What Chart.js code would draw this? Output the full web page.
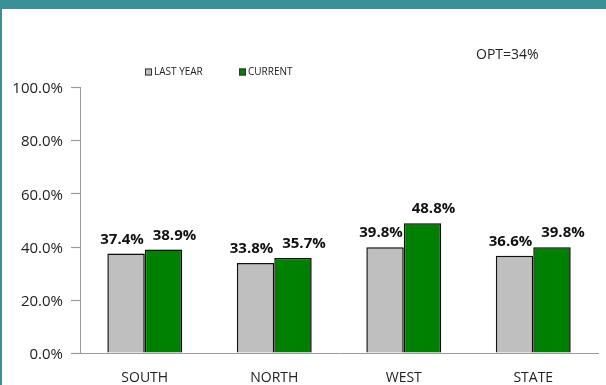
<!DOCTYPE html>
<html>
<head>
<meta charset="utf-8">
<script src="https://cdn.jsdelivr.net/npm/chart.js@4/dist/chart.umd.min.js"></script>
<style>
  html, body { margin: 0; padding: 0; background: #fff; }
  #frame {
    width: 604px; height: 376px;
    border-top: 9px solid #3a9097;
    border-left: 2px solid #3a9097;
  }
  canvas { display: block; }
</style>
</head>
<body>
<div id="frame"><canvas id="chart" width="604" height="376"></canvas></div>
<script>
// Data
const regions = ['SOUTH', 'NORTH', 'WEST', 'STATE'];
const lastYear = [37.4, 33.8, 39.8, 36.6];
const current = [38.9, 35.7, 48.8, 39.8];
const yTicks = [0, 20, 40, 60, 80, 100];
const optLabel = 'OPT=34%';

const FONT = "'Open Sans', sans-serif";
const TEXT = '#222';
const AXIS = '#9a9a9a';

// soft drop shadow behind the bars
const barShadow = {
  id: 'barShadow',
  beforeDatasetDraw(chart) {
    const ctx = chart.ctx;
    ctx.save();
    ctx.shadowColor = 'rgba(0,0,0,0.22)';
    ctx.shadowBlur = 3;
    ctx.shadowOffsetX = 2;
    ctx.shadowOffsetY = 0;
  },
  afterDatasetDraw(chart) { chart.ctx.restore(); }
};

// value labels above each bar
const valueLabels = {
  id: 'valueLabels',
  afterDatasetsDraw(chart) {
    const ctx = chart.ctx;
    ctx.save();
    ctx.font = 'bold 15px ' + FONT;
    ctx.fillStyle = '#111';
    ctx.textAlign = 'center';
    ctx.textBaseline = 'alphabetic';
    chart.data.datasets.forEach((ds, i) => {
      const dx = i === 0 ? -4 : 11;
      chart.getDatasetMeta(i).data.forEach((bar, j) => {
        ctx.fillText(ds.data[j].toFixed(1) + '%', bar.x + dx, bar.y - 10);
      });
    });
    ctx.restore();
  }
};

// y tick marks to the left of the axis
const yTickMarks = {
  id: 'yTickMarks',
  afterDraw(chart) {
    const ctx = chart.ctx, y = chart.scales.y, x0 = chart.chartArea.left;
    ctx.save();
    ctx.strokeStyle = AXIS;
    ctx.lineWidth = 1.2;
    yTicks.forEach(v => {
      const py = Math.round(y.getPixelForValue(v)) + 0.5;
      ctx.beginPath();
      ctx.moveTo(x0 - 9, py);
      ctx.lineTo(x0, py);
      ctx.stroke();
    });
    ctx.restore();
  }
};

// legend row and the OPT note
const header = {
  id: 'header',
  afterDraw(chart) {
    const ctx = chart.ctx;
    ctx.save();
    ctx.font = '10px ' + FONT;
    ctx.textBaseline = 'middle';
    const spots = [143, 237];
    chart.data.datasets.forEach((ds, i) => {
      const x = spots[i], y = 63;
      ctx.fillStyle = ds.backgroundColor;
      ctx.fillRect(x, y - 3.5, 7, 7);
      ctx.strokeStyle = '#333';
      ctx.lineWidth = 1;
      ctx.strokeRect(x + 0.5, y - 3, 6, 6);
      ctx.fillStyle = TEXT;
      ctx.textAlign = 'left';
      ctx.fillText(ds.label, x + 9, y + 0.5);
    });
    ctx.fillStyle = TEXT;
    ctx.font = '14px ' + FONT;
    ctx.textBaseline = 'alphabetic';
    ctx.fillText(optLabel, 474, 50);
    ctx.restore();
  }
};

new Chart(document.getElementById('chart'), {
  type: 'bar',
  data: {
    labels: regions,
    datasets: [
      { label: 'LAST YEAR', data: lastYear, backgroundColor: '#bfbfbf', borderColor: '#111', borderWidth: 1.5 },
      { label: 'CURRENT', data: current, backgroundColor: '#008000', borderColor: '#111', borderWidth: 1.5 }
    ]
  },
  options: {
    responsive: false,
    devicePixelRatio: 1,
    animation: false,
    layout: { padding: { top: 78, right: 8, left: 0, bottom: 0 } },
    datasets: { bar: { categoryPercentage: 0.578, barPercentage: 1 } },
    plugins: { legend: { display: false }, tooltip: { enabled: false } },
    scales: {
      x: {
        grid: { display: false, drawTicks: false },
        border: { display: true, color: AXIS, width: 1 },
        ticks: { color: TEXT, font: { family: FONT, size: 14 }, padding: 17 },
        afterFit(s) { s.height = 32; }
      },
      y: {
        min: 0, max: 100,
        afterBuildTicks(s) { s.ticks = yTicks.map(v => ({ value: v })); },
        grid: { drawOnChartArea: false, drawTicks: false },
        border: { display: true, color: AXIS, width: 1 },
        ticks: {
          color: TEXT, padding: 17, labelOffset: 2,
          font: { family: FONT, size: 15 },
          callback: v => v.toFixed(1) + '%'
        },
        afterFit(s) { s.width = 78; }
      }
    }
  },
  plugins: [barShadow, valueLabels, yTickMarks, header]
});
</script>
</body>
</html>
